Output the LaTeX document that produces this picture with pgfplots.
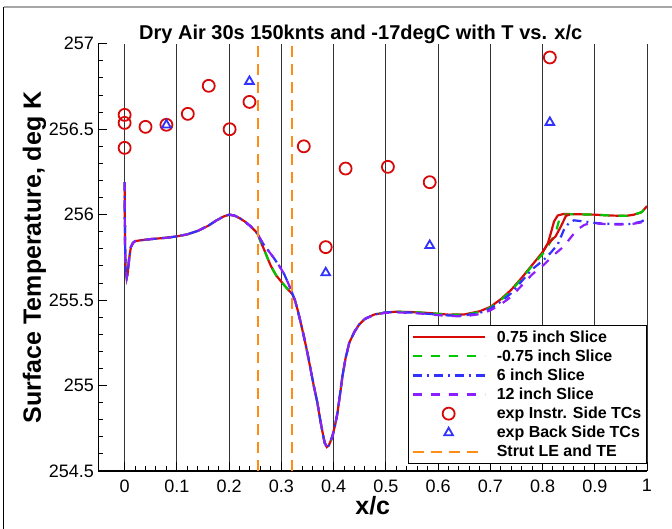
\documentclass[border=0pt]{standalone}
\usepackage{fontspec}
\setmainfont{Liberation Sans}
\usepackage{pgfplots}
\usepackage{pgfplotstable}
\pgfplotsset{compat=1.18}
\definecolor{cred}{RGB}{215,10,10}
\definecolor{cgreen}{RGB}{0,200,0}
\definecolor{cblue}{RGB}{50,50,255}
\definecolor{cpurple}{RGB}{140,30,255}
\definecolor{corange}{RGB}{255,140,20}

\pgfplotstableread{
x y
0 256.19
0.0005 255.95
0.001 255.80
0.002 255.68
0.004 255.63
0.006 255.66
0.009 255.75
0.012 255.81
0.016 255.835
0.02 255.845
0.03 255.85
0.05 255.857
0.08 255.865
0.1 255.873
0.12 255.885
0.14 255.905
0.16 255.935
0.175 255.965
0.19 255.99
0.2 256.0
0.21 255.995
0.22 255.98
0.23 255.96
0.24 255.935
0.25 255.905
0.255 255.885
0.26 255.845
0.267 255.796
0.275 255.735
0.28 255.70
0.29 255.645
0.302 255.60
0.312 255.565
0.321 255.535
0.326 255.50
0.331 255.445
0.337 255.37
0.343 255.29
0.35 255.19
0.356 255.095
0.362 255.0
0.369 254.90
0.375 254.79
0.379 254.725
0.383 254.665
0.387 254.64
0.391 254.65
0.395 254.68
0.398 254.705
0.403 254.77
0.4075 254.84
0.412 254.94
0.417 255.055
0.423 255.16
0.43 255.25
0.44 255.315
0.449 255.357
0.46 255.39
0.478 255.416
0.5 255.428
0.52 255.432
0.55 255.43
0.58 255.425
0.6 255.42
0.62 255.415
0.65 255.416
0.68 255.435
0.7 255.46
0.72 255.505
0.74 255.56
0.76 255.63
0.78 255.705
0.8 255.78
0.81 255.83
0.816 255.893
0.822 255.96
0.829 255.995
0.84 256.004
0.86 256.003
0.9 256.0
0.93 255.995
0.96 255.993
0.975 256.0
0.99 256.015
1.0 256.05
}\redtab

\pgfplotstableread{
x y
0.8 255.78
0.809 255.825
0.817 255.85
0.825 255.873
0.835 255.93
0.845 255.994
0.852 256.0
}\redtabb

\pgfplotstableread{
x y
0 256.19
0.0005 255.95
0.001 255.80
0.002 255.68
0.004 255.63
0.006 255.66
0.009 255.75
0.012 255.81
0.016 255.835
0.02 255.845
0.03 255.85
0.05 255.857
0.08 255.865
0.1 255.873
0.12 255.885
0.14 255.905
0.16 255.935
0.175 255.965
0.19 255.99
0.2 256.0
0.21 255.995
0.22 255.98
0.23 255.96
0.24 255.935
0.25 255.905
0.255 255.885
0.26 255.845
0.267 255.796
0.275 255.735
0.28 255.70
0.29 255.645
0.302 255.60
0.312 255.565
0.321 255.535
0.326 255.50
0.331 255.445
0.337 255.37
0.343 255.29
0.35 255.19
0.356 255.095
0.362 255.0
0.369 254.90
0.375 254.79
0.379 254.725
0.383 254.665
0.387 254.64
0.391 254.65
0.395 254.68
0.398 254.705
0.403 254.77
0.4075 254.84
0.412 254.94
0.417 255.055
0.423 255.16
0.43 255.25
0.44 255.315
0.449 255.357
0.46 255.39
0.478 255.416
0.5 255.428
0.52 255.432
0.55 255.43
0.58 255.425
0.6 255.42
0.62 255.415
0.65 255.414
0.68 255.43
0.7 255.455
0.72 255.50
0.74 255.555
0.76 255.625
0.78 255.70
0.803 255.78
0.815 255.84
0.825 255.893
0.832 255.97
0.838 256.0
0.86 256.003
0.9 256.0
0.93 255.995
0.96 255.993
0.975 256.0
0.99 256.015
1.0 256.05
}\greentab

\pgfplotstableread{
x y
0 256.19
0.0005 255.95
0.001 255.80
0.002 255.68
0.004 255.63
0.006 255.66
0.009 255.75
0.012 255.81
0.016 255.835
0.02 255.845
0.03 255.85
0.05 255.857
0.08 255.865
0.1 255.873
0.12 255.885
0.14 255.905
0.16 255.935
0.175 255.965
0.19 255.99
0.2 256.0
0.21 255.995
0.22 255.98
0.23 255.96
0.24 255.935
0.25 255.905
0.255 255.885
0.264 255.835
0.275 255.79
0.286 255.745
0.296 255.70
0.305 255.655
0.313 255.60
0.321 255.54
0.326 255.50
0.331 255.445
0.337 255.37
0.343 255.29
0.35 255.19
0.356 255.095
0.362 255.0
0.369 254.90
0.375 254.79
0.379 254.725
0.383 254.665
0.387 254.64
0.391 254.65
0.395 254.68
0.398 254.705
0.403 254.77
0.4075 254.84
0.412 254.94
0.417 255.055
0.423 255.16
0.43 255.25
0.44 255.315
0.449 255.357
0.46 255.39
0.478 255.416
0.5 255.428
0.52 255.43
0.55 255.427
0.58 255.42
0.6 255.415
0.62 255.41
0.65 255.41
0.68 255.425
0.7 255.45
0.72 255.49
0.74 255.54
0.76 255.61
0.78 255.68
0.803 255.737
0.815 255.775
0.829 255.825
0.841 255.912
0.85 255.95
0.86 255.967
0.88 255.96
0.9055 255.95
0.94 255.945
0.969 255.946
0.99 255.96
1.0 255.98
}\bluetab

\pgfplotstableread{
x y
0 256.19
0.0005 255.95
0.001 255.80
0.002 255.68
0.004 255.63
0.006 255.66
0.009 255.75
0.012 255.81
0.016 255.835
0.02 255.845
0.03 255.85
0.05 255.857
0.08 255.865
0.1 255.873
0.12 255.885
0.14 255.905
0.16 255.935
0.175 255.965
0.19 255.99
0.2 256.0
0.21 255.995
0.22 255.98
0.23 255.96
0.24 255.935
0.25 255.905
0.255 255.885
0.264 255.835
0.275 255.79
0.286 255.745
0.296 255.70
0.305 255.655
0.313 255.60
0.321 255.54
0.326 255.50
0.331 255.445
0.337 255.37
0.343 255.29
0.35 255.19
0.356 255.095
0.362 255.0
0.369 254.90
0.375 254.79
0.379 254.725
0.383 254.665
0.387 254.64
0.391 254.65
0.395 254.68
0.398 254.705
0.403 254.77
0.4075 254.84
0.412 254.94
0.417 255.055
0.423 255.16
0.43 255.25
0.44 255.315
0.449 255.357
0.46 255.39
0.478 255.415
0.5 255.426
0.52 255.428
0.55 255.425
0.58 255.418
0.6 255.412
0.62 255.407
0.65 255.405
0.68 255.418
0.7 255.44
0.72 255.475
0.74 255.52
0.76 255.585
0.78 255.65
0.803 255.708
0.82 255.76
0.841 255.815
0.855 255.87
0.866 255.912
0.88 255.94
0.892 255.951
0.92 255.945
0.943 255.942
0.97 255.945
0.99 255.955
1.0 255.96
}\purpletab

\begin{document}
\begin{tikzpicture}
\begin{axis}[
  scale only axis,
  width=548.5pt, height=427.2pt,
  xmin=-0.05, xmax=1.0,
  ymin=254.5, ymax=257,
  axis x line*=bottom, axis y line*=left,
  axis line style={black, line width=1.6pt},
  xtick={0,0.1,...,1.0},
  ytick={254.5,255,255.5,256,256.5,257},
  minor x tick num=4,
  minor y tick num=4,
  tick align=inside,
  major tick length=9pt, minor tick length=5pt,
  every tick/.style={black, line width=1pt},
  xmajorgrids,
  major grid style={black!80, line width=0.9pt},
  /pgf/number format/assume math mode=true,
  /pgf/number format/fixed,
  /pgf/number format/precision=1,
  ticklabel style={font=\fontsize{18}{20}\selectfont},
  xticklabel style={yshift=-5pt},
  yticklabel style={xshift=-1pt},
  title={\bfseries Dry Air 30s 150knts and -17degC with T vs. x/c},
  title style={font=\fontsize{20}{22}\selectfont, xshift=-12pt, yshift=-9pt},
  xlabel={\bfseries x/c},
  ylabel={\bfseries Surface Temperature, deg K},
  label style={font=\fontsize{25}{27}\selectfont},
  xlabel style={yshift=3pt},
  ylabel style={yshift=-4pt},
  legend style={at={(1,0)}, anchor=south east, yshift=7pt, xshift=0pt,
    draw=black, line width=1.2pt, font=\fontsize{16}{19}\selectfont\bfseries,
    inner sep=3pt, row sep=2pt, fill=white,
    /tikz/every odd column/.append style={column sep=9pt}},
  legend cell align=left,
  legend image code/.code={\draw[mark repeat=2,mark phase=2,#1] plot coordinates {(0pt,0pt) (36pt,0pt) (72pt,0pt)};},
]
\addplot[cred, line width=2.2pt, no markers] table {\redtab};
\addlegendentry{0.75 inch Slice}
\addplot[cgreen, line width=2.2pt, no markers, dash pattern=on 9pt off 9pt] table {\greentab};
\addlegendentry{-0.75 inch Slice}
\addplot[cblue, line width=2.2pt, no markers, dash pattern=on 9pt off 5pt on 2pt off 5pt] table {\bluetab};
\addlegendentry{6 inch Slice}
\addplot[cpurple, line width=2.2pt, no markers, dash pattern=on 9pt off 9pt] table {\purpletab};
\addlegendentry{12 inch Slice}
\addplot[only marks, mark=o, mark size=6pt, cred, line width=1.8pt] coordinates {
(0,256.584) (0,256.537) (0,256.391) (0.040,256.514) (0.080,256.526)
(0.121,256.59) (0.161,256.754) (0.201,256.50) (0.239,256.66)
(0.343,256.40) (0.385,255.81) (0.423,256.27) (0.504,256.28)
(0.584,256.19) (0.814,256.92)};
\addlegendentry{exp Instr. Side TCs}
\addplot[only marks, mark=triangle, mark size=5pt, cblue, line width=1.8pt] coordinates {
(0.080,256.525) (0.239,256.78) (0.385,255.66) (0.584,255.82) (0.814,256.54)};
\addlegendentry{exp Back Side TCs}
\addplot[corange, line width=2.2pt, no markers, dash pattern=on 11pt off 7pt] coordinates {
(0.255,254.5) (0.255,257)

(0.32,254.5) (0.32,257)};
\addlegendentry{Strut LE and TE}
\addplot[cred, line width=2.2pt, no markers, forget plot] table {\redtabb};
\end{axis}
\pgfresetboundingbox
\path[use as bounding box] ([shift={(-98.5pt,-58pt)}]current axis.south west) rectangle ([shift={(25pt,43.8pt)}]current axis.north east);
\draw[black, line width=1pt] ([shift={(-94.5pt,-58pt)}]current axis.south west) -- ([shift={(-94.5pt,36.8pt)}]current axis.north west);
\draw[black!35, line width=1.5pt] ([shift={(-94.5pt,36.8pt)}]current axis.north west) -- ([shift={(25pt,36.8pt)}]current axis.north east);
\end{tikzpicture}
\end{document}
